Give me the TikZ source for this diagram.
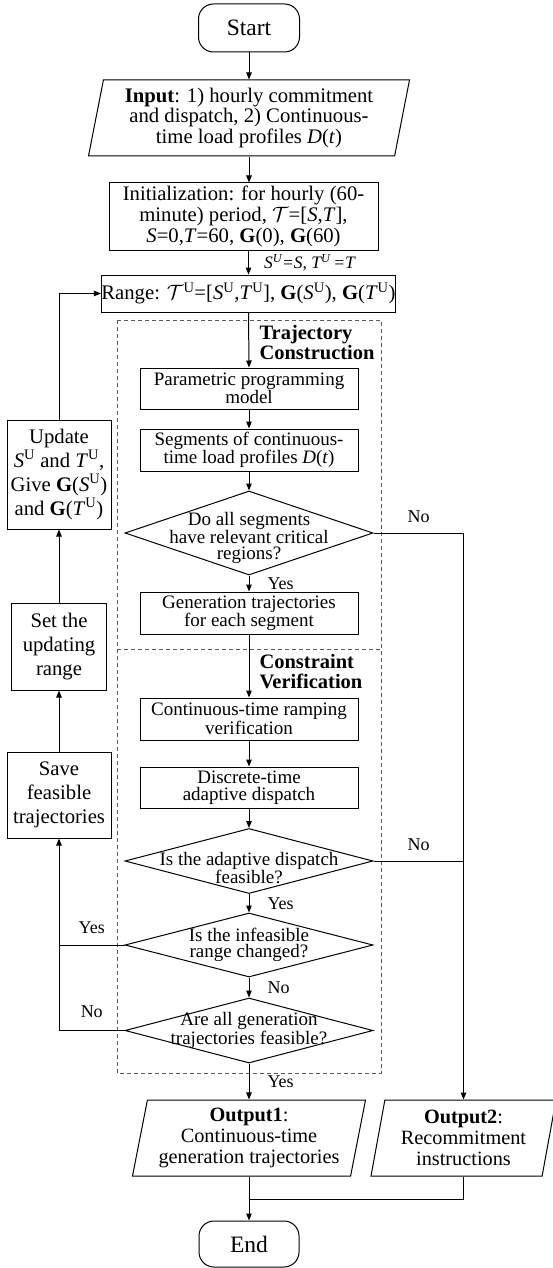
\documentclass[tikz,border=0pt]{standalone}
\usepackage{fontspec}
\setmainfont{Liberation Serif}
\usetikzlibrary{shapes.geometric,arrows.meta,positioning}

\newcommand{\supU}[1]{\textit{#1}\textsuperscript{U}}
\tikzstyle{arrow} = [-{Triangle[length=7pt,width=5.5pt]}]
\tikzstyle{startstop} = [draw, rectangle, rounded corners=15pt, minimum width=101pt, minimum height=48pt, font=\fontsize{23.5}{26}\selectfont]
\tikzstyle{io} = [draw, trapezium, trapezium left angle=76, trapezium right angle=104, trapezium stretches body=true, align=center, inner sep=0pt, minimum height=76pt]
\tikzstyle{topbox} = [draw, rectangle, align=center, inner sep=0pt, font=\fontsize{20.7}{21}\selectfont]
\tikzstyle{process} = [draw, rectangle, align=center, inner sep=0pt, minimum width=218pt, minimum height=41pt, font=\fontsize{19}{17}\selectfont]
\tikzstyle{decision} = [draw, diamond, inner sep=0pt, minimum width=248pt]
\tikzstyle{dtext} = [align=center, inner sep=0pt, font=\fontsize{19}{16.5}\selectfont]
\tikzstyle{sidebox} = [draw, rectangle, align=center, inner sep=0pt, font=\fontsize{20.7}{24}\selectfont]
\tikzstyle{yn} = [inner sep=1pt, font=\fontsize{18}{20}\selectfont]
\tikzstyle{stage} = [dash pattern=on 4pt off 3pt, black!65, line width=0.9pt]

\begin{document}
\begin{tikzpicture}[x=1pt,y=-1pt,line width=1pt]
\useasboundingbox (0,0) rectangle (553,1268);

% dashed stages
\draw[stage] (117,320) rectangle (381,1073);
\draw[stage] (117,649) -- (381,649);
\node[anchor=west, align=left, inner sep=0pt, font=\bfseries\fontsize{20.5}{20}\selectfont] (tclabel) at (259,343) {Trajectory\\Construction};
\node[anchor=west, align=left, inner sep=0pt, font=\bfseries\fontsize{20.5}{20}\selectfont] (cvlabel) at (259,672) {Constraint\\Verification};

% main column
\node[startstop] (start) at (249,28) {Start};
\node[io, minimum width=321pt, font=\fontsize{20.7}{20.5}\selectfont] (input) at (249,118) {\textbf{Input}: 1) hourly commitment\\and dispatch, 2) Continuous-\\time load profiles \textit{D}(\textit{t})};
\node[topbox, minimum width=269pt, minimum height=67pt] (init) at (243.5,216.5) {Initialization: for hourly (60-\\minute) period, $\mathcal{T}$=[\textit{S},\textit{T}],\\\textit{S}=0,\textit{T}=60, \textbf{G}(0), \textbf{G}(60)};
\node[topbox, minimum width=281pt, minimum height=37pt] (range) at (248.5,293.5) {Range: $\mathcal{T}$\textsuperscript{U}=[\supU{S},\supU{T}], \textbf{G}(\supU{S}), \textbf{G}(\supU{T})};
\node[process] (para) at (249,388.5) {Parametric programming\\model};
\node[process, minimum height=42pt] (seg) at (249,450) {Segments of continuous-\\time load profiles \textit{D}(\textit{t})};
\node[decision, minimum height=84pt, label={[dtext,yshift=-5pt]center:Do all segments\\have relevant critical\\regions?}] (d1) at (249,533) {};
\node[process, minimum height=42pt] (gen) at (249,613) {Generation trajectories\\for each segment};
\node[process, minimum height=42pt] (cont) at (249,719) {Continuous-time ramping\\verification};
\node[process] (disc) at (249,787.5) {Discrete-time\\adaptive dispatch};
\node[decision, minimum height=65pt, label={[dtext,yshift=-7pt]center:Is the adaptive dispatch\\feasible?}] (d2) at (249,861) {};
\node[decision, minimum height=64pt, label={[dtext]center:Is the infeasible\\range changed?}] (d3) at (249,945) {};
\node[decision, minimum height=65pt, label={[dtext]center:Are all generation\\trajectories feasible?}] (d4) at (249,1030.5) {};
\node[io, minimum width=233pt, font=\fontsize{20.3}{21}\selectfont] (out1) at (249,1138) {\textbf{Output1}:\\Continuous-time\\generation trajectories};
\node[io, minimum width=185pt, font=\fontsize{20.3}{21}\selectfont] (out2) at (463.5,1138) {\textbf{Output2}:\\Recommitment\\instructions};
\node[startstop, minimum width=100pt, minimum height=46pt] (end) at (249,1244) {End};
\coordinate (merge) at (249,1199);

% left column
\node[sidebox, minimum width=104pt, minimum height=109pt] (update) at (59,474.5) {Update\\\supU{S} and \supU{T}\textit{,}\\Give \textbf{G}(\supU{S})\\and \textbf{G}(\supU{T})};
\node[sidebox, minimum width=95pt, minimum height=87pt] (set) at (59,646.5) {Set the\\updating\\range};
\node[sidebox, minimum width=104pt, minimum height=86pt] (save) at (59,795) {Save\\feasible\\trajectories};

% connectors
\draw[arrow] (start.south) -- (start.south |- input.north);
\draw[arrow] (input.south) -- (input.south |- init.north);
\draw[arrow] (init.south -| range.north) -- node[right=14pt, inner sep=1pt, font=\itshape\fontsize{17.5}{20}\selectfont] {\supU{S}=\textit{S}, \supU{T}\,=\textit{T}} (range.north);
\draw[arrow] (range.south) -- (para.north);
\draw[arrow] (para) -- (seg);
\draw[arrow] (seg) -- (d1);
\draw[arrow] (d1) -- node[yn, right=17pt] {Yes} (gen);
\draw[arrow] (gen) -- (cont);
\draw[arrow] (cont) -- (disc);
\draw[arrow] (disc) -- (d2);
\draw[arrow] (d2) -- node[yn, right=17pt] {Yes} (d3);
\draw[arrow] (d3) -- node[yn, right=17pt] {No} (d4);
\draw[arrow] (d4.south) -- node[yn, right=17pt] {Yes} (d4.south |- out1.north);
\draw[arrow] (d1.east) -| node[yn, pos=0.25, above=9pt] {No} (out2.center |- out2.north);
\draw (d2.east) -- node[yn, above=9pt] {No} (d2.east -| out2.center);
\draw (d3.west) -- node[yn, above=10pt] {Yes} (d3.west -| save.south);
\draw[arrow] (d4.west) -| node[yn, pos=0.25, above=11pt] {No} (save.south);
\draw[arrow] (save) -- (set);
\draw[arrow] (set) -- (update);
\draw[arrow] (update.north) |- (range.west);
\draw[arrow] (end.north |- out1.south) -- (end.north);
\draw (out2.center |- out2.south) |- (merge);

\end{tikzpicture}
\end{document}
